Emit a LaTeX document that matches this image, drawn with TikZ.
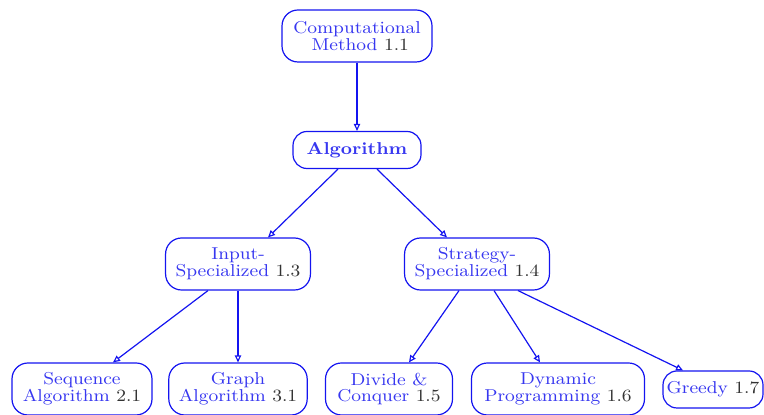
\documentclass[tikz,border=0pt]{standalone}
\usepackage{fontspec}
\setmainfont{Latin Modern Roman}[FakeStretch=1.1]
\usepackage{xcolor}
\usepackage{tikz}
\usetikzlibrary{arrows.meta, positioning}

\definecolor{linkblue}{RGB}{20,20,240}
\definecolor{textblue}{RGB}{55,55,240}
\newcommand{\docnum}[1]{\textcolor{black!80}{#1}}

\begin{document}
\begin{tikzpicture}[x=1pt, y=1pt,
  box/.style={rectangle, draw=linkblue, rounded corners=8pt, semithick,
             align=center, inner xsep=5pt, inner ysep=3pt, minimum height=26pt,
             text=textblue, font=\fontsize{8.6}{8.4}\selectfont},
  smallbox/.style={box, minimum height=18.5pt, rounded corners=7pt, inner xsep=1.5pt},
  arrow/.style={-{Triangle[open, length=3.5pt, width=3.2pt]}, semithick, color=linkblue}
]
\useasboundingbox (0,0) rectangle (382,207.5);

\node[box, minimum width=75pt] (cm) at (178.5,189.5) {Computational\\ \ Method \docnum{1.1}};
\node[smallbox, minimum width=64pt] (alg) at (178.5,132.5) {\textbf{Algorithm}};
\node[box, minimum width=70pt] (inp) at (119,75.5) {Input-\\Specialized \docnum{1.3}};
\node[box, minimum width=70.5pt] (strat) at (238.5,75.5) {Strategy-\\Specialized \docnum{1.4}};
\node[box, minimum width=70pt] (seq) at (41,13) {Sequence\\Algorithm \docnum{2.1}};
\node[box, minimum width=67.5pt] (graph) at (119,13) {Graph\\Algorithm \docnum{3.1}};
\node[box, minimum width=63.5pt] (div) at (194.5,13) {Divide \&\\Conquer \docnum{1.5}};
\node[box, minimum width=86.5pt] (dyn) at (279,13) {Dynamic\\Programming \docnum{1.6}};
\node[smallbox, minimum width=50pt] (greedy) at (356.5,12.75) {Greedy \docnum{1.7}};

% concept tree
\draw[arrow] (cm.south) -- (alg.north);
\draw[arrow] ([xshift=-9.5pt]alg.south) -- ([xshift=15pt]inp.north);
\draw[arrow] ([xshift=10pt]alg.south) -- ([xshift=-15pt]strat.north);
\draw[arrow] ([xshift=-15pt]inp.south) -- ([xshift=15.5pt]seq.north);
\draw[arrow] (inp.south) -- (graph.north);
\draw[arrow] ([xshift=-9pt]strat.south) -- ([xshift=10pt]div.north);
\draw[arrow] ([xshift=8.5pt]strat.south) -- ([xshift=-9pt]dyn.north);
\draw[arrow] ([xshift=20.5pt]strat.south) -- ([xshift=-15pt]greedy.north);

\end{tikzpicture}
\end{document}
